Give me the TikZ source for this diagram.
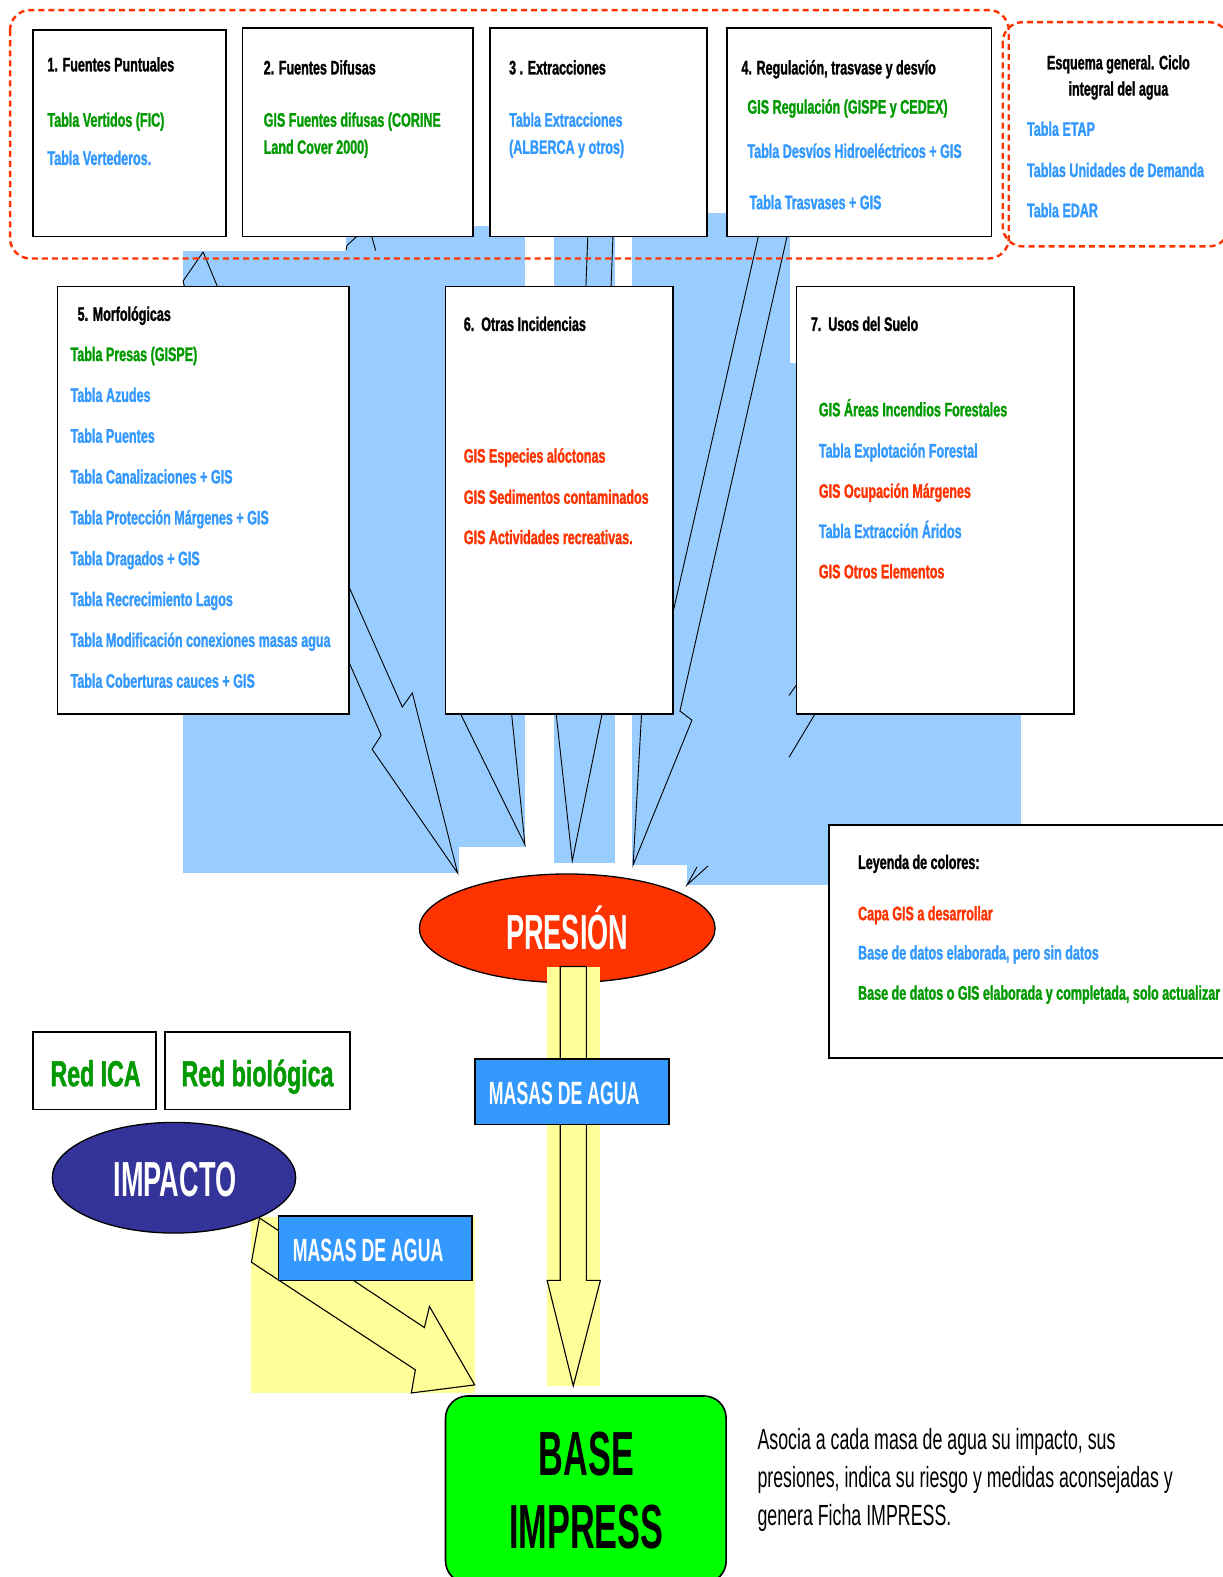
\documentclass[tikz,border=0pt]{standalone}
\usepackage{fontspec}
\setmainfont{Liberation Sans}[FakeStretch=0.64, BoldFeatures={FakeBold=1.2}]
\newfontfamily\heavyfont{Liberation Sans}[FakeStretch=0.55]
\newfontfamily\notefont{Liberation Sans}[FakeStretch=0.61]
\usetikzlibrary{shapes.geometric}

\definecolor{txtgreen}{RGB}{0,153,0}
\definecolor{txtblue}{RGB}{51,153,255}
\definecolor{txtred}{RGB}{255,51,0}
\definecolor{shadeblue}{RGB}{153,204,255}
\definecolor{shadeyellow}{RGB}{255,255,153}
\definecolor{presred}{RGB}{255,51,0}
\definecolor{impindigo}{RGB}{51,51,153}
\definecolor{waterblue}{RGB}{51,153,255}
\definecolor{basegreen}{RGB}{0,255,0}

\newcommand\itemfont{\fontsize{19.5}{23}\selectfont\bfseries}

\begin{document}
\begin{tikzpicture}[x=1pt,y=-1pt,
  panel/.style={draw=black, line width=1.6pt, fill=white, inner sep=0pt},
  txt/.style={anchor=base west, inner sep=0pt, font=\itemfont},
  hdr/.style={txt, text=black},
  grn/.style={txt, text=txtgreen},
  blu/.style={txt, text=txtblue},
  rdt/.style={txt, text=txtred},
  shade/.style={fill=shadeblue, draw=none},
  yshade/.style={fill=shadeyellow, draw=none},
  wire/.style={draw=black, line width=0.9pt, line join=miter},
  group/.style={draw=txtred, line width=2.4pt, dash pattern=on 6pt off 4pt, rounded corners=20pt},
  bigarrow/.style={draw=black, line width=1.1pt, fill=shadeyellow, line join=miter},
  watertag/.style={draw=black, line width=1.6pt, fill=waterblue, inner sep=0pt},
  bigtext/.style={anchor=base, inner sep=0pt, text=white, font=\heavyfont\bfseries\fontsize{49}{49}\selectfont},
]
\useasboundingbox (0,0) rectangle (1216,1568);
\fill[white] (0,0) rectangle (1216,1568);

% light blue extents of the pressure arrows
\fill[shade] (683,361) rectangle (1015,880);
\fill[shade] (628,212) rectangle (785,860);
\fill[shade] (551,230) rectangle (611.5,858);
\fill[shade] (182,250) rectangle (522,842);
\fill[shade] (182,842) rectangle (456,868);
\fill[shade] (344,225) rectangle (522,250);

% pressure ellipse
\node[ellipse, draw=black, line width=1.3pt, fill=presred, minimum width=294pt,
      minimum height=108pt, inner sep=0pt] (pres) at (564,923) {};
\node[bigtext] (prestxt) at (564,944) {PRESIÓN};

% yellow extents of the water-body arrows
\fill[yshade] (544,961) rectangle (597,1378);
\fill[yshade] (250,1210) rectangle (472,1385);

% arrow outlines partly hidden behind the panels
\draw[wire] (202,250.5) -- (182,279.5) -- (184,287);
\draw[wire] (202,250.5) -- (217,287);
\draw[wire] (344,249) -- (345,244) -- (357,233);
\draw[wire] (369,233) -- (373.5,249);
\draw[wire] (584.5,233) -- (582.5,287);
\draw[wire] (609.5,233) -- (607.5,287);
\draw[wire] (754.5,233) -- (668,614);
\draw[wire] (783,233) -- (676,707) -- (688,716) -- (629.5,860) -- (638,708);
\draw[wire] (345,579) -- (400,703) -- (410,689) -- (455,868) -- (370,745) -- (379,731) -- (345,654);
\draw[wire] (457,708) -- (522,840) -- (508.5,708);
\draw[wire] (552.8,708) -- (569,856) -- (599,708);
\draw[wire] (784.5,753) -- (811.5,708);
\draw[wire] (784.5,691.5) -- (794,678);
\draw[wire] (704,861) -- (683,880) -- (693,862);

% block arrows towards the IMPRESS base
\draw[bigarrow] (557,961) -- (583,961) -- (583,1273) -- (597,1273) -- (570,1378)
  -- (544,1273) -- (557,1273) -- cycle;
\draw[bigarrow] (258,1211) -- (422,1320) -- (427,1299) -- (472,1377) -- (409,1385)
  -- (413,1362) -- (250,1255) -- cycle;

% impact ellipse
\node[ellipse, draw=black, line width=1.3pt, fill=impindigo, minimum width=242pt,
      minimum height=110pt, inner sep=0pt] (imp) at (173,1171) {};
\node[bigtext] (imptxt) at (174,1190) {IMPACTO};

% water-body tags
\node[watertag, minimum width=193pt, minimum height=65pt] (masa1) at (568.5,1085.5) {};
\node[bigtext, anchor=base west, font=\heavyfont\bfseries\fontsize{32}{32}\selectfont]
  (masa1txt) at (486,1098) {MASAS DE AGUA};
\node[watertag, minimum width=192pt, minimum height=64pt] (masa2) at (373,1241) {};
\node[bigtext, anchor=base west, font=\heavyfont\bfseries\fontsize{32}{32}\selectfont]
  (masa2txt) at (291,1254) {MASAS DE AGUA};

% monitoring networks
\node[panel, minimum width=122pt, minimum height=77pt] (ica) at (94,1064.5) {};
\node[anchor=base, inner sep=0pt, text=txtgreen, font=\bfseries\fontsize{36}{36}\selectfont]
  (icatxt) at (95,1080) {Red ICA};
\node[panel, minimum width=184pt, minimum height=77pt] (bio) at (256,1064.5) {};
\node[anchor=base, inner sep=0pt, text=txtgreen, font=\bfseries\fontsize{36}{36}\selectfont]
  (biotxt) at (256,1080) {Red biológica};

% IMPRESS base
\node[draw=black, line width=1.6pt, fill=basegreen, rounded corners=22pt,
      minimum width=279pt, minimum height=186pt, inner sep=0pt] (base) at (582.5,1481) {};
\node[bigtext, text=black, font=\heavyfont\bfseries\fontsize{62}{62}\selectfont]
  (base1) at (583,1467) {BASE};
\node[bigtext, text=black, font=\heavyfont\bfseries\fontsize{62}{62}\selectfont]
  (base2) at (583,1540) {IMPRESS};
\node[anchor=base west, inner sep=0pt, font=\notefont\fontsize{29}{29}\selectfont] (d1) at (753,1441)
  {Asocia a cada masa de agua su impacto, sus};
\node[anchor=base west, inner sep=0pt, font=\notefont\fontsize{29}{29}\selectfont] (d2) at (753,1479)
  {presiones, indica su riesgo y medidas aconsejadas y};
\node[anchor=base west, inner sep=0pt, font=\notefont\fontsize{29}{29}\selectfont] (d3) at (753,1517)
  {genera Ficha IMPRESS.};

% top row of pressure panels
\node[panel, minimum width=192pt, minimum height=205pt] (p1) at (129,132.5) {};
\node[hdr] (p1h) at (47,71) {1. Fuentes Puntuales};
\node[grn] (p1a) at (47,126) {Tabla Vertidos (FIC)};
\node[blu] (p1b) at (47,164) {Tabla Vertederos.};

\node[panel, minimum width=229pt, minimum height=207pt] (p2) at (355.5,131.5) {};
\node[hdr] (p2h) at (262,74) {2. Fuentes Difusas};
\node[grn] (p2a) at (262,126) {GIS Fuentes difusas (CORINE};
\node[grn] (p2b) at (262,153) {Land Cover 2000)};

\node[panel, minimum width=216pt, minimum height=207pt] (p3) at (595,131.5) {};
\node[hdr] (p3h) at (506,74) {3 . Extracciones};
\node[blu] (p3a) at (506,126) {Tabla Extracciones};
\node[blu] (p3b) at (506,153) {(ALBERCA y otros)};

\node[panel, minimum width=263pt, minimum height=207pt] (p4) at (854.5,131.5) {};
\node[hdr] (p4h) at (737,74) {4. Regulación, trasvase y desvío};
\node[grn] (p4a) at (743,113) {GIS Regulación (GISPE y CEDEX)};
\node[blu] (p4b) at (743,157) {Tabla Desvíos Hidroeléctricos + GIS};
\node[blu] (p4c) at (745,208) {Tabla Trasvases + GIS};

% integral water cycle
\node[hdr, anchor=base] (ciclo1) at (1112,69) {Esquema general. Ciclo};
\node[hdr, anchor=base] (ciclo2) at (1112,95) {integral del agua};
\node[blu] (ciclo3) at (1021,135) {Tabla ETAP};
\node[blu] (ciclo4) at (1021,176) {Tablas Unidades de Demanda};
\node[blu] (ciclo5) at (1021,216) {Tabla EDAR};

% second row of pressure panels
\node[panel, minimum width=290pt, minimum height=425pt] (p5) at (202,497.5) {};
\node[hdr] (p5h) at (77,319) {5. Morfológicas};
\node[grn] (p5a) at (70,359) {Tabla Presas (GISPE)};
\foreach \t [count=\i] in {Tabla Azudes, Tabla Puentes, Tabla Canalizaciones + GIS,
    Tabla Protección Márgenes + GIS, Tabla Dragados + GIS, Tabla Recrecimiento Lagos,
    Tabla Modificación conexiones masas agua, Tabla Coberturas cauces + GIS}
  \node[blu] (p5i\i) at (70,359+40.6*\i) {\t};

\node[panel, minimum width=226pt, minimum height=425pt] (p6) at (556,497.5) {};
\node[hdr] (p6h) at (461,329) {6.\ \ Otras Incidencias};
\node[rdt] (p6a) at (461,460) {GIS Especies alóctonas};
\node[rdt] (p6b) at (461,501) {GIS Sedimentos contaminados};
\node[rdt] (p6c) at (461,541) {GIS Actividades recreativas.};

\node[panel, minimum width=276pt, minimum height=425pt] (p7) at (930,497.5) {};
\node[hdr] (p7h) at (806,329) {7.\ \ Usos del Suelo};
\node[grn] (p7a) at (814,414) {GIS Áreas Incendios Forestales};
\node[blu] (p7b) at (814,455) {Tabla Explotación Forestal};
\node[rdt] (p7c) at (814,495) {GIS Ocupación Márgenes};
\node[blu] (p7d) at (814,535) {Tabla Extracción Áridos};
\node[rdt] (p7e) at (814,575) {GIS Otros Elementos};

% colour legend
\node[panel, minimum width=406pt, minimum height=232pt] (leg) at (1027,936) {};
\node[hdr] (legh) at (853,864) {Leyenda de colores:};
\node[rdt] (lega) at (853,915) {Capa GIS a desarrollar};
\node[blu] (legb) at (853,954) {Base de datos elaborada, pero sin datos};
\node[grn] (legc) at (853,994) {Base de datos o GIS elaborada y completada, solo actualizar};

% dashed groupings
\draw[group] (10,10) rectangle (1003,257);
\draw[group] (997,22) rectangle (1222,245);
\end{tikzpicture}
\end{document}
